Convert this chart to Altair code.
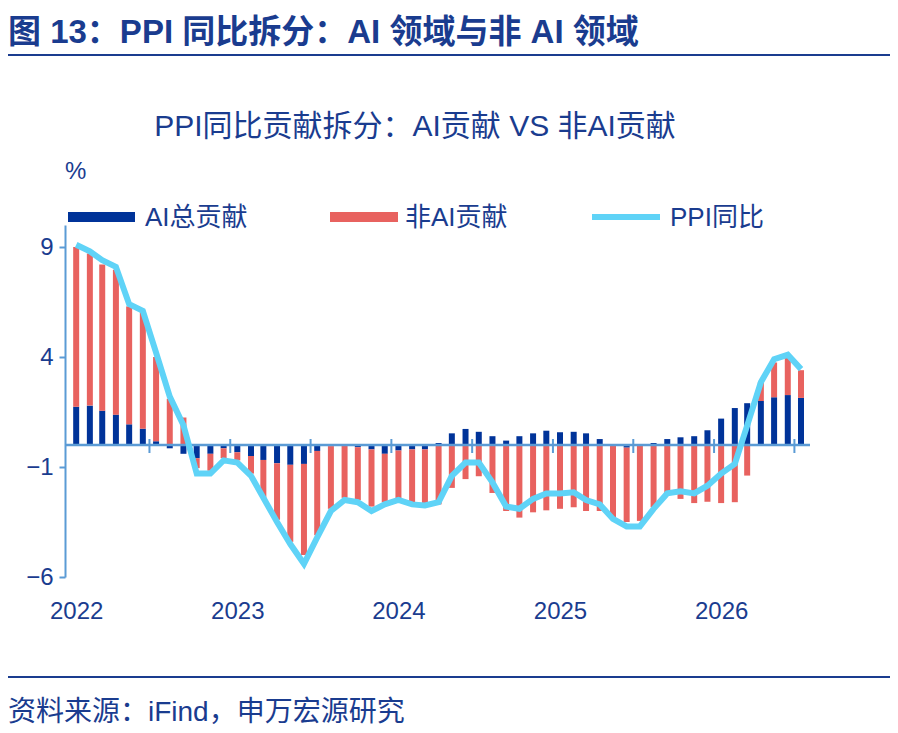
import altair as alt
import pandas as pd

months = pd.date_range("2022-01-01", periods=55, freq="MS").strftime("%Y-%m-%d").tolist()

ai = [1.74, 1.79, 1.56, 1.38, 0.94, 0.74, 0.17, -0.15, -0.4, -0.6, -0.4, -0.15, -0.33, -0.5,
      -0.68, -0.83, -0.9, -0.86, -0.27, -0.05, 0.0, -0.1, -0.2, -0.4, -0.25, -0.2, -0.2,
      0.09, 0.53, 0.73, 0.6, 0.4, 0.2, 0.4, 0.53, 0.65, 0.58, 0.6, 0.53, 0.27, 0.0, -0.12,
      0.0, 0.09, 0.27, 0.35, 0.4, 0.67, 1.2, 1.68, 1.9, 2.0, 2.17, 2.27, 2.14]
non_ai = [7.26, 6.91, 6.64, 6.59, 5.36, 5.36, 3.83, 2.1, 1.25, -0.45, -0.77, -0.45, -0.37, -0.8,
          -1.72, -2.57, -3.5, -4.14, -3.83, -2.85, -2.4, -2.4, -2.6, -2.2, -2.2, -2.4, -2.45,
          -2.7, -1.95, -1.55, -1.42, -2.18, -3.0, -3.3, -3.06, -2.97, -2.9, -2.83, -3.0, -3.0,
          -3.4, -3.38, -3.45, -2.83, -2.18, -2.45, -2.64, -2.58, -2.64, -2.6, -1.39, 0.85,
          1.58, 1.71, 1.26]
ppi = [9.1, 8.8, 8.4, 8.1, 6.4, 6.1, 4.2, 2.2, 0.9, -1.3, -1.3, -0.7, -0.8, -1.4, -2.4,
       -3.5, -4.5, -5.4, -4.2, -3.0, -2.5, -2.6, -3.0, -2.7, -2.5, -2.7, -2.75, -2.6, -1.4,
       -0.8, -0.8, -1.7, -2.8, -2.9, -2.45, -2.2, -2.2, -2.15, -2.5, -2.7, -3.36, -3.7,
       -3.7, -2.9, -2.2, -2.1, -2.2, -1.85, -1.3, -0.86, 0.88, 2.85, 3.9, 4.1, 3.45]
tick_dates = ["2022-06-16", "2022-12-16", "2023-06-16", "2023-12-16", "2024-06-16",
              "2024-12-16", "2025-06-16", "2025-12-16", "2026-06-16"]

NAVY = "#003399"
RED = "#e8625f"
CYAN = "#5fd3f7"
TXT = "#1a3c8f"
AXC = "#5b9bd5"
FONT = "Liberation Sans, Noto Sans CJK SC"

bars_df = pd.DataFrame({
    "month": months * 2,
    "value": ai + non_ai,
    "series": ["AI总贡献"] * 55 + ["非AI贡献"] * 55,
    "order": [0] * 55 + [1] * 55,
})
line_df = pd.DataFrame({"month": months, "ppi": ppi})

xscale = alt.Scale(domain=["2021-12-18", "2026-07-10"])
yscale = alt.Scale(domain=[-6, 10], nice=False)

bars = alt.Chart(bars_df).mark_bar(size=6).encode(
    x=alt.X("month:T", scale=xscale, title=None,
            axis=alt.Axis(format="%Y", tickCount="year", domain=False, ticks=False, grid=False,
                          labelFontSize=24, labelColor=TXT, labelPadding=22, labelFont=FONT)),
    y=alt.Y("value:Q", scale=yscale, stack="zero", title=None,
            axis=alt.Axis(values=[9, 4, -1, -6], grid=False, domainColor=AXC, domainWidth=2,
                          tickColor=AXC, tickWidth=2, tickSize=6, labelFontSize=24,
                          labelColor=TXT, labelFont=FONT, labelPadding=6)),
    color=alt.Color("series:N", scale=alt.Scale(domain=["AI总贡献", "非AI贡献"], range=[NAVY, RED]),
                    legend=None),
    order=alt.Order("order:Q"),
)

zero = alt.Chart(pd.DataFrame({"y": [0]})).mark_rule(color=AXC, strokeWidth=2.5).encode(y="y:Q")

ticks = alt.Chart(pd.DataFrame({"d": tick_dates})).mark_rule(color=AXC, strokeWidth=2).encode(
    x="d:T", y=alt.value(214), y2=alt.value(228))

line = alt.Chart(line_df).mark_line(color=CYAN, strokeWidth=6).encode(
    x="month:T", y="ppi:Q")

def txt(t, x, y, size, bold=False, align="left"):
    return alt.Chart(pd.DataFrame({"t": [t]})).mark_text(
        fontSize=size, font=FONT, color=TXT, align=align, baseline="middle",
        fontWeight="bold" if bold else "normal").encode(
        text="t:N", x=alt.value(x), y=alt.value(y))

def hrule(x1, x2, y, color, w):
    return alt.Chart(pd.DataFrame({"a": [0]})).mark_rule(color=color, strokeWidth=w).encode(
        x=alt.value(x1), x2=alt.value(x2), y=alt.value(y))

decor = [
    txt("图 13：PPI 同比拆分：AI 领域与非 AI 领域", -57, -192, 33, bold=True),
    hrule(-57, 833, -170, TXT, 2),
    txt("PPI同比贡献拆分：AI贡献 VS 非AI贡献", 350, -98, 30, align="center"),
    txt("%", 0, -53, 24),
    hrule(3, 70, -8, NAVY, 10), txt("AI总贡献", 80, -7, 26),
    hrule(265, 333, -8, RED, 10), txt("非AI贡献", 340, -7, 26),
    hrule(527, 595, -8, CYAN, 6), txt("PPI同比", 605, -7, 26),
    hrule(-57, 833, 452, TXT, 2),
    txt("资料来源：iFind，申万宏源研究", -57, 488, 28),
]

chart = alt.layer(bars, zero, ticks, line, *decor).properties(
    width=745, height=352,
    padding={"left": 57, "top": 217, "right": 80, "bottom": 150},
    autosize=alt.AutoSizeParams(type="none"),
).configure_view(stroke=None)

chart.save("out.html", embed_options={"renderer": "svg", "actions": False})
